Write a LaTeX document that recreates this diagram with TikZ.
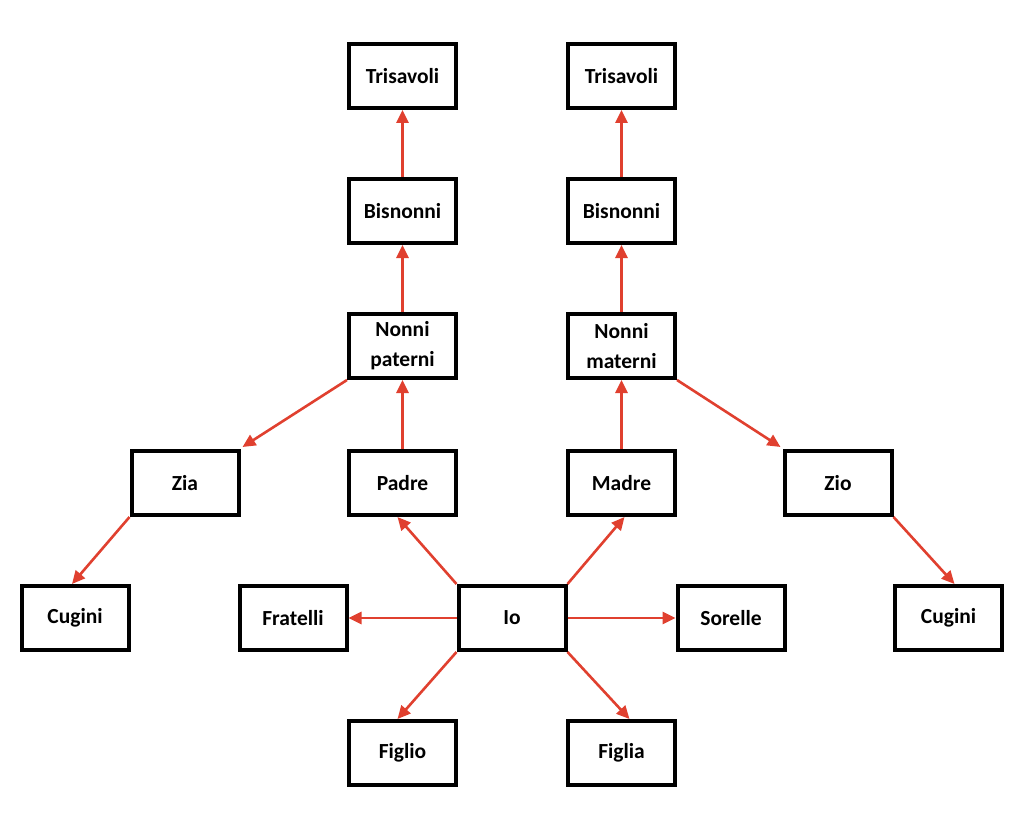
\documentclass[tikz,border=0pt]{standalone}
\usepackage{fontspec}
\setmainfont{Carlito}
\usetikzlibrary{arrows.meta,calc}
\definecolor{arrred}{HTML}{E0402F}
\begin{document}
\begin{tikzpicture}[x=1pt,y=-1pt,
  box/.style={draw=black,line width=4pt,minimum width=107pt,minimum height=64pt,
    inner sep=2pt,align=center,font=\fontsize{21.5}{30}\selectfont\bfseries,fill=white},
  link/.style={draw=arrred,line width=2.6pt,-{Triangle[length=13pt,width=12pt]}}]
\useasboundingbox (0,0) rectangle (1024,821);
\node[box] (TL) at (402.5,76) {Trisavoli};
\node[box] (TR) at (621.5,76) {Trisavoli};
\node[box] (BL) at (402.5,211) {Bisnonni};
\node[box] (BR) at (621.5,211) {Bisnonni};
\node[box] (NP) at (402.5,346) {Nonni\\paterni};
\node[box] (NM) at (621.5,346) {Nonni\\materni};
\node[box] (Zia) at (185,483) {Zia};
\node[box] (Padre) at (402.5,483) {Padre};
\node[box] (Madre) at (621.5,483) {Madre};
\node[box] (Zio) at (838,483) {Zio};
\node[box] (CL) at (75,618) {Cugini};
\node[box] (Fr) at (293,618) {Fratelli};
\node[box] (Io) at (512,618) {Io};
\node[box] (So) at (731,618) {Sorelle};
\node[box] (CR) at (948.5,618) {Cugini};
\node[box] (Figlio) at (402.5,753) {Figlio};
\node[box] (Figlia) at (621.5,753) {Figlia};
\draw[link] (Io.north west) -- ($(Padre.south)+(-5,0)$);
\draw[link] (Io.north east) -- ($(Madre.south)+(3,0)$);
\draw[link] (Io.south west) -- ($(Figlio.north)+(-5,0)$);
\draw[link] (Io.south east) -- ($(Figlia.north)+(8,0)$);
\draw[link] (Io.west) -- (Fr.east);
\draw[link] (Io.east) -- (So.west);
\draw[link] (Padre.north) -- (NP.south);
\draw[link] (NP.north) -- (BL.south);
\draw[link] (BL.north) -- (TL.south);
\draw[link] (Madre.north) -- (NM.south);
\draw[link] (NM.north) -- (BR.south);
\draw[link] (BR.north) -- (TR.south);
\draw[link] (NP.south west) -- ($(Zia.north east)+(2,-2)$);
\draw[link] (Zia.south west) -- ($(CL.north)+(-3,0)$);
\draw[link] (NM.south east) -- ($(Zio.north west)+(-2,-2)$);
\draw[link] (Zio.south east) -- ($(CR.north)+(6,0)$);
\end{tikzpicture}
\end{document}
